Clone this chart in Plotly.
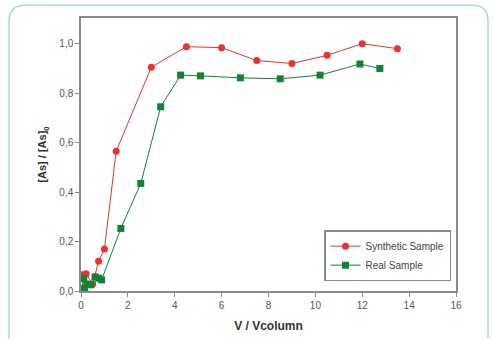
import plotly.graph_objects as go

# Data
syn_x = [0.05, 0.22, 0.5, 0.75, 1.0, 1.5, 3.0, 4.5, 6.0, 7.5, 9.0, 10.5, 12.0, 13.5]
syn_y = [0.066, 0.07, 0.028, 0.12, 0.17, 0.565, 0.905, 0.988, 0.984, 0.932, 0.92, 0.953, 1.0, 0.98]
real_x = [0.0, 0.12, 0.15, 0.25, 0.42, 0.6, 0.75, 0.88, 1.7, 2.55, 3.4, 4.25, 5.1, 6.8, 8.5, 10.2, 11.9, 12.75]
real_y = [0.006, 0.05, 0.01, 0.028, 0.025, 0.057, 0.052, 0.045, 0.253, 0.435, 0.745, 0.873, 0.87, 0.862, 0.858, 0.873, 0.918, 0.9]
x_ticks = [0, 2, 4, 6, 8, 10, 12, 14, 16]
y_ticks = [0.0, 0.2, 0.4, 0.6, 0.8, 1.0]

RED = "#ee3030"
GREEN = "#128235"

fig = go.Figure()
fig.add_trace(go.Scatter(x=syn_x, y=syn_y, mode="lines+markers", name="Synthetic Sample",
                         line=dict(color=RED, width=1),
                         marker=dict(symbol="circle", size=7, color=RED)))
fig.add_trace(go.Scatter(x=real_x, y=real_y, mode="lines+markers", name="Real Sample",
                         line=dict(color=GREEN, width=1),
                         marker=dict(symbol="square", size=7, color=GREEN)))

W, H = 493, 343
L, R, T, B = 81, 37, 18, 48
pw, ph = W - L - R, H - T - B

def px(x):
    return (x - L) / pw

def py(y):
    return (H - B - y) / ph

BORDER = dict(color="#a9d9ec", width=1.5)
x0, x1 = px(9), px(488)
y1, y0 = py(5), py(343)
rx, ry = 16 / pw, 16 / ph
# straight parts
fig.add_shape(type="line", xref="paper", yref="paper", x0=x0, x1=x0, y0=y0, y1=y1 - ry, line=BORDER, layer="below")
fig.add_shape(type="line", xref="paper", yref="paper", x0=x1, x1=x1, y0=y0, y1=y1 - ry, line=BORDER, layer="below")
fig.add_shape(type="line", xref="paper", yref="paper", x0=x0 + rx, x1=x1 - rx, y0=y1, y1=y1, line=BORDER, layer="below")
# rounded corners
fig.add_shape(type="path", xref="paper", yref="paper", layer="below", line=BORDER,
              path=f"M {x0},{y1-ry} Q {x0},{y1} {x0+rx},{y1}")
fig.add_shape(type="path", xref="paper", yref="paper", layer="below", line=BORDER,
              path=f"M {x1-rx},{y1} Q {x1},{y1} {x1},{y1-ry}")

axis_common = dict(showline=True, linecolor="#8a8a8a", linewidth=1.5, mirror=True,
                   ticks="outside", tickcolor="#8a8a8a", ticklen=4, showgrid=False,
                   zeroline=False, tickfont=dict(family="Liberation Sans", size=10, color="#555555"))

fig.update_layout(
    width=W, height=H,
    margin=dict(l=L, r=R, t=T, b=B),
    paper_bgcolor="white", plot_bgcolor="white",
    separators=", ",
    showlegend=True,
    legend=dict(x=px(451), y=py(285), xanchor="right", yanchor="bottom",
                bordercolor="#8a8a8a", borderwidth=1.5, bgcolor="white",
                font=dict(family="Liberation Sans", size=10, color="#444444"),
                tracegroupgap=0, itemwidth=30),
    xaxis=dict(range=[0, 16], tickvals=x_ticks, tickformat="d",
               title=dict(text="<b>V / Vcolumn</b>", standoff=12,
                          font=dict(family="Liberation Sans", size=12, color="#333333")),
               **axis_common),
    yaxis=dict(range=[0, 1.104], tickvals=y_ticks, tickformat=".1f",
               title=dict(text="<b>[As] / [As]<sub>0</sub></b>", standoff=10,
                          font=dict(family="Liberation Sans", size=11, color="#333333")),
               **axis_common),
)

fig.write_html("out.html", config={"displayModeBar": False},
               post_script="document.body.style.margin='0';document.body.style.padding='0';")
